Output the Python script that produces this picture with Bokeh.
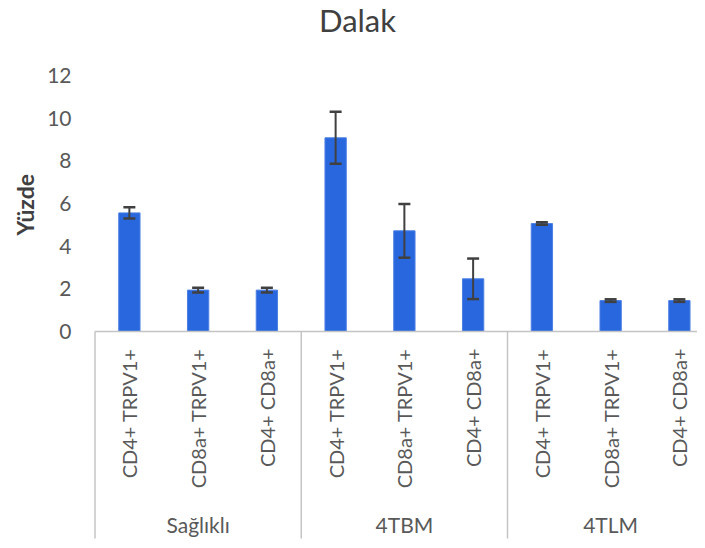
import math
from bokeh.plotting import figure
from bokeh.models import Range1d, FixedTicker, ColumnDataSource, Whisker, TeeHead, Title
from bokeh.embed import file_html
from bokeh.resources import INLINE
from bokeh.core.properties import value

# ---- data ----
groups = ["Sağlıklı", "4TBM", "4TLM"]
markers = ["CD4+ TRPV1+", "CD8a+ TRPV1+", "CD4+ CD8a+"]
saglikli = [5.56, 1.94, 1.94]
saglikli_err = [0.26, 0.11, 0.11]
tbm = [9.08, 4.72, 2.47]
tbm_err = [1.22, 1.26, 0.95]
tlm = [5.06, 1.45, 1.45]
tlm_err = [0.06, 0.06, 0.06]
y_ticks = [0, 2, 4, 6, 8, 10, 12]
title_text = "Dalak"
y_label = "Yüzde"

# ---- build table ----
series = [saglikli, tbm, tlm]
errors = [saglikli_err, tbm_err, tlm_err]
xs, tops, ups, lows, labels = [], [], [], [], []
i = 0
for g, vals, errs in zip(groups, series, errors):
    for m, v, e in zip(markers, vals, errs):
        xs.append(i)
        tops.append(v)
        ups.append(v + e)
        lows.append(v - e)
        labels.append(m)
        i += 1
src = ColumnDataSource(dict(x=xs, top=tops, upper=ups, lower=lows, label=labels))

# ---- layout constants (page pixels) ----
PAGE_OFF = 0
W, H = 697, 540
frame_left_page = 93.0
px_per_cat = 68.75
zero_page = 331.0
px_per_unit = 21.33
left_border = int(frame_left_page - PAGE_OFF)


def ypx(page_y):
    """page y pixel -> data y"""
    return (zero_page - page_y) / px_per_unit


def xpx(page_x):
    """page x pixel -> data x"""
    return -0.5 + (page_x - 94.5) / px_per_cat


x_start = xpx(PAGE_OFF + left_border)
x_end = xpx(PAGE_OFF + W)
y_end = ypx(PAGE_OFF)
y_start = ypx(PAGE_OFF + H)

FONT = "Lato"
TXT = "#595959"

p = figure(width=W, height=H, output_backend="svg", toolbar_location=None,
           x_range=Range1d(x_start, x_end), y_range=Range1d(y_start, y_end),
           x_axis_location=None, min_border_left=left_border, min_border_right=0,
           min_border_top=0, min_border_bottom=0)
p.outline_line_color = None
p.xgrid.visible = False
p.ygrid.visible = False
p.background_fill_color = "white"
p.border_fill_color = "white"

ax = p.yaxis[0]
ax.ticker = FixedTicker(ticks=y_ticks)
ax.axis_line_color = None
ax.major_tick_line_color = None
ax.minor_tick_line_color = None
ax.major_tick_out = 0
ax.major_label_standoff = 22
ax.major_label_text_font = FONT
ax.major_label_text_font_size = "21px"
ax.major_label_text_color = TXT

# y-axis title, placed beside the 0..12 span
p.add_layout(Title(text=y_label, align="left", offset=H - 235, standoff=12,
                   text_font=FONT, text_font_size="23px", text_font_style="bold",
                   text_color="#404040"), "left")

# bars
p.vbar(x="x", top="top", bottom=0, width=0.31, source=src,
       fill_color="#2867de", line_color="#4d80e4", line_width=1)

# error bars
wh = Whisker(source=src, base="x", upper="upper", lower="lower",
             line_color="#404040", line_width=2, level="overlay",
             upper_head=TeeHead(size=12, line_color="#404040", line_width=2.5),
             lower_head=TeeHead(size=12, line_color="#404040", line_width=2.5))
p.add_layout(wh)

# category axis: baseline and group separators
sizes = [len(v) for v in series]
bounds = [-0.5]
for s in sizes:
    bounds.append(bounds[-1] + s)
p.segment(x0=[bounds[0]], y0=[0], x1=[bounds[-1]], y1=[0],
          line_color="#c4c4c4", line_width=1.5)
p.segment(x0=bounds, y0=[0] * len(bounds), x1=bounds, y1=[ypx(538)] * len(bounds),
          line_color="#c4c4c4", line_width=1.5)

# rotated category labels
p.text(x="x", y=ypx(348), text="label", source=src, angle=math.pi / 2,
       text_align="right", text_baseline="middle",
       text_font=value(FONT), text_font_size="20px", text_color=TXT)

# group labels
centers = [(bounds[k] + bounds[k + 1]) / 2 for k in range(len(groups))]
p.text(x=centers, y=[ypx(524)] * len(groups), text=groups,
       text_align="center", text_baseline="middle",
       text_font=value(FONT), text_font_size="21px", text_color=TXT)

# title
p.text(x=[xpx(357)], y=[ypx(0.5)], text=[title_text], text_align="center",
       text_baseline="top", text_font=value(FONT), text_font_size="31px",
       text_color="#404040")

open("out.html", "w").write(file_html(p, INLINE))
